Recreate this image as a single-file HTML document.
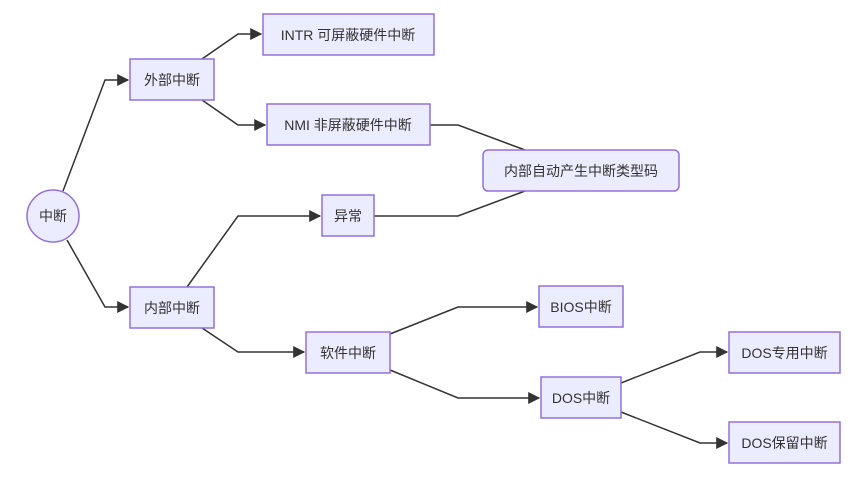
<!DOCTYPE html>
<html><head><meta charset="utf-8"><style>
body{margin:0;background:#fff}
svg{display:block}
text{font-family:"Liberation Sans","Noto Sans CJK SC",sans-serif;font-size:14px;fill:#333;text-anchor:middle;dominant-baseline:central}
.n{fill:#ECECFF;stroke:#9370DB;stroke-width:1.5}
.e{fill:none;stroke:#333;stroke-width:1.5}
</style></head><body>
<svg width="865" height="484" viewBox="0 0 865 484">
<defs><marker id="a" viewBox="0 0 10 10" refX="9" refY="5" markerWidth="8" markerHeight="8" orient="auto"><path d="M0,0L10,5L0,10z" fill="#333"/></marker></defs>
<path class="e" d="M63,191L105,80L128,80" marker-end="url(#a)"/>
<path class="e" d="M67,240L105,307L128,307" marker-end="url(#a)"/>
<path class="e" d="M202,59L238,34L261,34" marker-end="url(#a)"/>
<path class="e" d="M202,100L238,125L265,125" marker-end="url(#a)"/>
<path class="e" d="M430,125L458,125L525,150"/>
<path class="e" d="M187,287L238,216L320,216" marker-end="url(#a)"/>
<path class="e" d="M374,216L458,216L525,191"/>
<path class="e" d="M202,328L238,352L304,352" marker-end="url(#a)"/>
<path class="e" d="M390,334L458,307L537,307" marker-end="url(#a)"/>
<path class="e" d="M390,370L458,398L539,398" marker-end="url(#a)"/>
<path class="e" d="M621,383L700,352L727,352" marker-end="url(#a)"/>
<path class="e" d="M621,412L700,443L727,443" marker-end="url(#a)"/>
<circle class="n" cx="53" cy="216" r="26"/><text x="53" y="216">中断</text>
<rect class="n" x="130" y="59" width="84" height="41"/><text x="172" y="80">外部中断</text>
<rect class="n" x="263" y="14" width="171" height="41"/><text x="348" y="35">INTR 可屏蔽硬件中断</text>
<rect class="n" x="267" y="104" width="163" height="41"/><text x="348" y="125">NMI 非屏蔽硬件中断</text>
<rect class="n" x="322" y="195" width="52" height="41"/><text x="348" y="216">异常</text>
<rect class="n" x="483" y="150" width="196" height="41" rx="5"/><text x="581" y="171">内部自动产生中断类型码</text>
<rect class="n" x="130" y="287" width="84" height="41"/><text x="172" y="308">内部中断</text>
<rect class="n" x="306" y="332" width="84" height="41"/><text x="348" y="353">软件中断</text>
<rect class="n" x="539" y="286" width="84" height="41"/><text x="581" y="307">BIOS中断</text>
<rect class="n" x="541" y="377" width="80" height="41"/><text x="581" y="398">DOS中断</text>
<rect class="n" x="729" y="332" width="111" height="41"/><text x="784.5" y="353">DOS专用中断</text>
<rect class="n" x="729" y="422" width="111" height="41"/><text x="784.5" y="443">DOS保留中断</text>
</svg>
</body></html>
